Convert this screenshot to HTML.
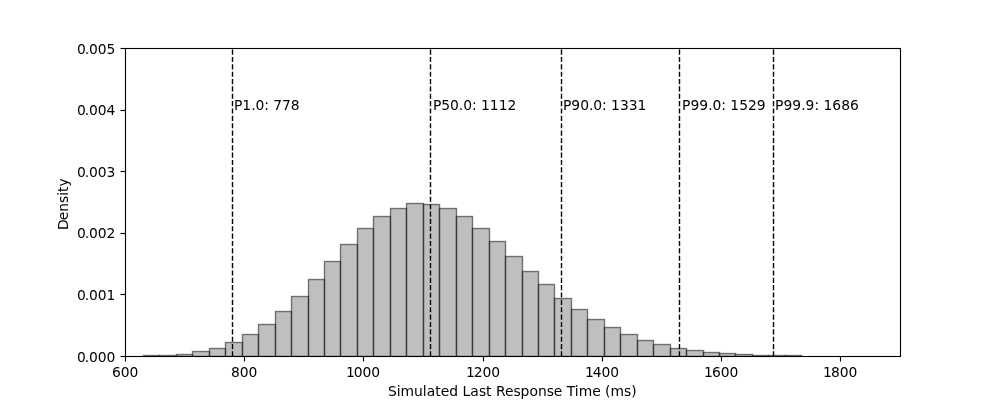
<!DOCTYPE html>
<html lang="en"><head><meta charset="utf-8"><title>Simulated Last Response Time</title>
<style>
html,body{margin:0;padding:0;background:#fff;}
body{width:1000px;height:400px;overflow:hidden;}
svg{display:block;}
text{font-family:"DejaVu Sans","Liberation Sans",sans-serif;font-size:13.889px;fill:#000;}
</style></head><body>
<svg width="1000" height="400" viewBox="0 0 1000 400">
<rect x="0" y="0" width="1000" height="400" fill="#fff"/>
<defs><clipPath id="axclip"><rect x="125" y="48" width="775" height="308"/></clipPath></defs>
<g clip-path="url(#axclip)" fill="#808080" fill-opacity="0.5" stroke="#000" stroke-opacity="0.5" stroke-width="1.3889" stroke-linejoin="miter">
<rect x="143.5" y="355.5" width="16" height="1.0"/>
<rect x="159.5" y="355.5" width="17" height="1.0"/>
<rect x="176.5" y="354.5" width="16" height="2.0"/>
<rect x="192.5" y="351.5" width="17" height="5.0"/>
<rect x="209.5" y="348.5" width="16" height="8.0"/>
<rect x="225.5" y="342.5" width="17" height="14.0"/>
<rect x="242.5" y="334.5" width="16" height="22.0"/>
<rect x="258.5" y="324.5" width="17" height="32.0"/>
<rect x="275.5" y="311.5" width="16" height="45.0"/>
<rect x="291.5" y="296.5" width="17" height="60.0"/>
<rect x="308.5" y="279.5" width="16" height="77.0"/>
<rect x="324.5" y="261.5" width="16" height="95.0"/>
<rect x="340.5" y="244.5" width="17" height="112.0"/>
<rect x="357.5" y="228.5" width="16" height="128.0"/>
<rect x="373.5" y="216.5" width="17" height="140.0"/>
<rect x="390.5" y="208.5" width="16" height="148.0"/>
<rect x="406.5" y="203.5" width="17" height="153.0"/>
<rect x="423.5" y="204.5" width="16" height="152.0"/>
<rect x="439.5" y="208.5" width="17" height="148.0"/>
<rect x="456.5" y="216.5" width="16" height="140.0"/>
<rect x="472.5" y="228.5" width="17" height="128.0"/>
<rect x="489.5" y="241.5" width="16" height="115.0"/>
<rect x="505.5" y="256.5" width="17" height="100.0"/>
<rect x="522.5" y="271.5" width="16" height="85.0"/>
<rect x="538.5" y="284.5" width="16" height="72.0"/>
<rect x="554.5" y="298.5" width="17" height="58.0"/>
<rect x="571.5" y="309.5" width="16" height="47.0"/>
<rect x="587.5" y="319.5" width="17" height="37.0"/>
<rect x="604.5" y="327.5" width="16" height="29.0"/>
<rect x="620.5" y="334.5" width="17" height="22.0"/>
<rect x="637.5" y="340.5" width="16" height="16.0"/>
<rect x="653.5" y="344.5" width="17" height="12.0"/>
<rect x="670.5" y="348.5" width="16" height="8.0"/>
<rect x="686.5" y="350.5" width="17" height="6.0"/>
<rect x="703.5" y="352.5" width="16" height="4.0"/>
<rect x="719.5" y="353.5" width="16" height="3.0"/>
<rect x="735.5" y="354.5" width="17" height="2.0"/>
<rect x="752.5" y="355.5" width="16" height="1.0"/>
<rect x="768.5" y="355.5" width="17" height="1.0"/>
<rect x="785.5" y="355.5" width="16" height="1.0"/>
</g>
<g stroke="#000" stroke-width="1.1111" fill="none">
<line x1="125.5" y1="356.5" x2="125.5" y2="361.5"/>
<line x1="244.5" y1="356.5" x2="244.5" y2="361.5"/>
<line x1="363.5" y1="356.5" x2="363.5" y2="361.5"/>
<line x1="483.5" y1="356.5" x2="483.5" y2="361.5"/>
<line x1="602.5" y1="356.5" x2="602.5" y2="361.5"/>
<line x1="721.5" y1="356.5" x2="721.5" y2="361.5"/>
<line x1="840.5" y1="356.5" x2="840.5" y2="361.5"/>
<line x1="120.5" y1="48.5" x2="125.5" y2="48.5"/>
<line x1="120.5" y1="110.5" x2="125.5" y2="110.5"/>
<line x1="120.5" y1="171.5" x2="125.5" y2="171.5"/>
<line x1="120.5" y1="233.5" x2="125.5" y2="233.5"/>
<line x1="120.5" y1="294.5" x2="125.5" y2="294.5"/>
<line x1="120.5" y1="356.5" x2="125.5" y2="356.5"/>
</g>
<g clip-path="url(#axclip)" stroke="#000" stroke-width="1.3889" stroke-dasharray="5.1389 2.2222" stroke-dashoffset="0" fill="none">
<line x1="232.5" y1="356.5" x2="232.5" y2="48.5"/>
<line x1="430.5" y1="356.5" x2="430.5" y2="48.5"/>
<line x1="561.5" y1="356.5" x2="561.5" y2="48.5"/>
<line x1="679.5" y1="356.5" x2="679.5" y2="48.5"/>
<line x1="773.5" y1="356.5" x2="773.5" y2="48.5"/>
</g>
<rect x="125.5" y="48.5" width="775" height="308" fill="none" stroke="#000" stroke-width="1.1111" stroke-linejoin="miter"/>
<text x="111.987 120.862 129.613" y="377">600</text>
<text x="230.988 239.863 248.613" y="377">800</text>
<text x="345.887 353.762 362.512 371.262" y="377">1000</text>
<text x="465.938 473.812 482.562 491.312" y="377">1200</text>
<text x="584.938 592.812 601.562 610.312" y="377">1400</text>
<text x="704.05 711.925 720.8 729.55" y="377">1600</text>
<text x="823.05 830.925 839.8 848.55" y="377">1800</text>
<text x="76.95 84.7 89.075 97.825 106.575" y="54.0">0.005</text>
<text x="76.95 84.7 89.075 97.825 106.575" y="115.0">0.004</text>
<text x="76.95 84.7 89.075 97.825 106.575" y="177.0">0.003</text>
<text x="76.95 84.7 89.075 97.825 106.575" y="238.0">0.002</text>
<text x="76.95 84.7 89.075 97.825 106.575" y="300.0">0.001</text>
<text x="76.95 84.7 89.075 97.825 106.575" y="362.0">0.000</text>
<text x="233.975 242.35 251.225 255.6 264.35 268.975 273.35 282.1 290.85" y="110">P1.0: 778</text>
<text x="432.95 441.325 450.075 458.825 463.2 471.95 476.575 480.95 489.825 498.7 507.575" y="110">P50.0: 1112</text>
<text x="562.975 571.35 580.225 588.975 593.35 602.1 606.725 611.1 619.975 628.725 637.475" y="110">P90.0: 1331</text>
<text x="682.025 690.4 699.275 708.15 712.525 721.275 725.9 730.275 739.15 747.9 756.65" y="110">P99.0: 1529</text>
<text x="775.075 783.45 792.325 801.2 805.575 814.45 819.075 823.45 832.325 841.2 850.075" y="110">P99.9: 1686</text>
<text x="387.938 396.688 400.562 414.062 422.812 426.688 435.312 440.812 449.312 458.188 462.562 470.312 478.938 486.062 491.562 495.938 504.938 513.438 520.562 529.438 537.938 546.688 553.812 562.312 566.688 574.812 578.688 592.188 600.688 605.062 610.562 624.062 631.188" y="396">Simulated Last Response Time (ms)</text>
<text transform="translate(68 204.075) rotate(-90)" x="-25.875 -16.125 -7.625 1.125 8.25 12.125 17.625" y="0">Density</text>
</svg>
</body></html>
